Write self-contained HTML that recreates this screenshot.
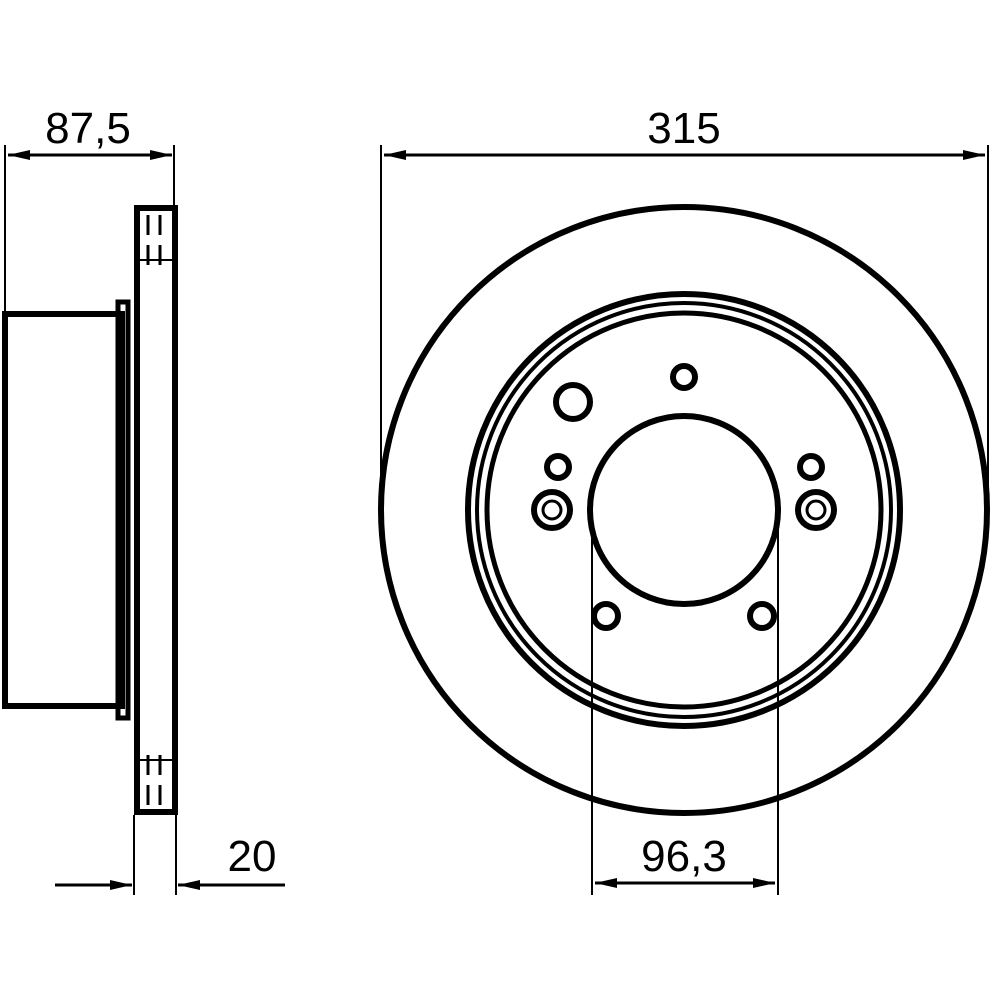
<!DOCTYPE html>
<html><head><style>html,body{margin:0;padding:0;background:#fff}svg{display:block}</style></head>
<body>
<svg width="1000" height="1000" viewBox="0 0 1000 1000" xmlns="http://www.w3.org/2000/svg">
<defs>
<marker id="a" viewBox="0 0 22 10" refX="22" refY="5" markerWidth="22" markerHeight="10" markerUnits="userSpaceOnUse" orient="auto-start-reverse"><path d="M0,0 L22,5 L0,10z" fill="#000"/></marker>
</defs>
<g fill="none" stroke="#000">
<!-- side view -->
<rect x="137" y="208" width="38" height="604" stroke-width="6"/>
<line x1="137" y1="260" x2="175" y2="260" stroke-width="2"/>
<line x1="137" y1="760" x2="175" y2="760" stroke-width="2"/>
<path d="M148 215v20M160 215v20M148 245v20M160 245v20M148 755v20M160 755v20M148 785v20M160 785v20" stroke-width="3"/>
<rect x="5" y="314" width="117" height="392" stroke-width="6"/>
<path d="M118 302h10v416h-10z" stroke-width="5"/>
<!-- dims -->
<path d="M5 145V312M174 145V205M134 815V895M176 815V895M381 145V505M988 145V505M592 490V895M778 490V895" stroke-width="2"/>
<line x1="8" y1="155" x2="172" y2="155" stroke-width="3" marker-start="url(#a)" marker-end="url(#a)"/>
<line x1="384" y1="155" x2="985" y2="155" stroke-width="3" marker-start="url(#a)" marker-end="url(#a)"/>
<line x1="595" y1="883" x2="775" y2="883" stroke-width="3" marker-start="url(#a)" marker-end="url(#a)"/>
<line x1="55" y1="885" x2="132" y2="885" stroke-width="3" marker-end="url(#a)"/>
<line x1="285" y1="885" x2="178" y2="885" stroke-width="3" marker-end="url(#a)"/>
<!-- front view -->
<circle cx="684" cy="510" r="303" stroke-width="6"/>
<circle cx="684" cy="510" r="216" stroke-width="6"/>
<circle cx="684" cy="510" r="207" stroke-width="4"/>
<circle cx="684" cy="510" r="197" stroke-width="5"/>
<circle cx="684" cy="510" r="94" stroke-width="6"/>
<g stroke-width="6">
<circle cx="684" cy="377" r="11"/>
<circle cx="573" cy="402" r="17"/>
<circle cx="558" cy="467" r="11"/>
<circle cx="811" cy="467" r="11"/>
<circle cx="552" cy="510" r="18"/>
<circle cx="816" cy="510" r="18"/>
<circle cx="606" cy="616" r="12"/>
<circle cx="762" cy="616" r="12"/>
</g>
<circle cx="552" cy="510" r="9" stroke-width="3"/>
<circle cx="816" cy="510" r="9" stroke-width="3"/>
</g>
<g font-family="Liberation Sans, sans-serif" font-size="44" fill="#000" text-anchor="middle">
<text x="88" y="143">87,5</text>
<text x="684" y="143">315</text>
<text x="684" y="871">96,3</text>
<text x="252" y="871">20</text>
</g>
</svg>
</body></html>
